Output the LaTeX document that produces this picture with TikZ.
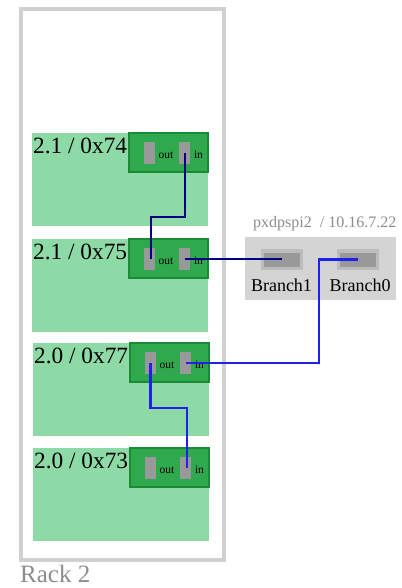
\documentclass[tikz,border=0pt]{standalone}
\usepackage{fontspec}
\setmainfont{Liberation Serif}
\definecolor{boardgreen}{RGB}{141,218,166}
\definecolor{modfill}{RGB}{48,168,78}
\definecolor{moddraw}{RGB}{26,138,52}
\definecolor{portgray}{RGB}{153,153,153}
\definecolor{linknavy}{RGB}{0,0,128}
\definecolor{linkblue}{RGB}{32,32,235}
\definecolor{rackgray}{RGB}{208,208,208}
\definecolor{hostgray}{RGB}{212,212,212}
\definecolor{bportout}{RGB}{188,188,188}
\definecolor{bportin}{RGB}{153,153,153}
\definecolor{textgray}{RGB}{140,140,140}
\tikzset{
  board/.style={fill=boardgreen, inner sep=0pt, minimum width=176pt, minimum height=93pt, anchor=north west},
  module/.style={fill=modfill, draw=moddraw, line width=2pt, inner sep=0pt, minimum width=79pt, minimum height=39pt, anchor=north east},
  port/.style={fill=portgray, inner sep=0pt, minimum width=11pt, minimum height=22pt},
  plabel/.style={font=\fontsize{11.5}{12}\selectfont, inner sep=0pt, anchor=base},
  blabel/.style={font=\fontsize{23.3}{23}\selectfont, inner sep=0pt, anchor=base west},
  navylink/.style={draw=linknavy, line width=2pt},
  bluelink/.style={draw=linkblue, line width=2.3pt},
}
\begin{document}
\begin{tikzpicture}[x=1pt,y=-1pt]
\useasboundingbox (0,0) rectangle (401,588);
% rack
\node[draw=rackgray, line width=4pt, inner sep=0pt, minimum width=203pt, minimum height=551pt, anchor=north west] (rack) at (19,7) {};
\node[font=\fontsize{25}{25}\selectfont, text=textgray, inner sep=0pt, anchor=base west] (racklabel) at (20,582) {Rack 2};
% boards
\foreach \i/\x/\y/\lab in {1/32/133/{2.1 / 0x74}, 2/32/239/{2.1 / 0x75}, 3/33/343/{2.0 / 0x77}, 4/33/448/{2.0 / 0x73}}{
  \node[board] (b\i) at (\x,\y) {};
  \node[blabel] (l\i) at (\x+1,\y+20.5) {\lab};
  \node[module] (m\i) at (\x+177,\y-1) {};
  \node[port] (b\i out) at (\x+117.5,\y+20) {};
  \node[port] (b\i in) at (\x+152.5,\y+20) {};
  \node[plabel] (o\i) at (\x+134,\y+25) {out};
  \node[plabel] (n\i) at (\x+166.5,\y+25) {in};
}
% host
\node[fill=hostgray, inner sep=0pt, minimum width=151pt, minimum height=63pt, anchor=north west] (host) at (245,237) {};
\node[font=\fontsize{16}{16}\selectfont, text=textgray, inner sep=0pt, anchor=base west] (hosttitle) at (253,227) {pxdpspi2~ / 10.16.7.22};
\node[fill=bportout, inner sep=0pt, minimum width=42pt, minimum height=21pt] (br1o) at (282,259.5) {};
\node[fill=bportin, inner sep=0pt, minimum width=36pt, minimum height=14pt] (br1) at (282,259.5) {};
\node[fill=bportout, inner sep=0pt, minimum width=42pt, minimum height=21pt] (br0o) at (358,259.5) {};
\node[fill=bportin, inner sep=0pt, minimum width=36pt, minimum height=14pt] (br0) at (358,259.5) {};
\node[font=\fontsize{18}{18}\selectfont, inner sep=0pt, anchor=base] (br1l) at (281.5,291) {Branch1};
\node[font=\fontsize{18}{18}\selectfont, inner sep=0pt, anchor=base] (br0l) at (360,291) {Branch0};
% links
\coordinate (j1) at (151,217);
\coordinate (j2) at (319,364);
\coordinate (j3) at (187,408);
\draw[navylink] (b1in.center) |- (j1) -- (j1 |- b2out.center);
\draw[navylink] (b2in.center) -- (b2in.center -| br1.center);
\draw[bluelink] (br0.center) -| (j2) |- (b3in.center);
\draw[bluelink] (b3out.center) |- (j3) -- (j3 |- b4in.center);
\end{tikzpicture}
\end{document}
